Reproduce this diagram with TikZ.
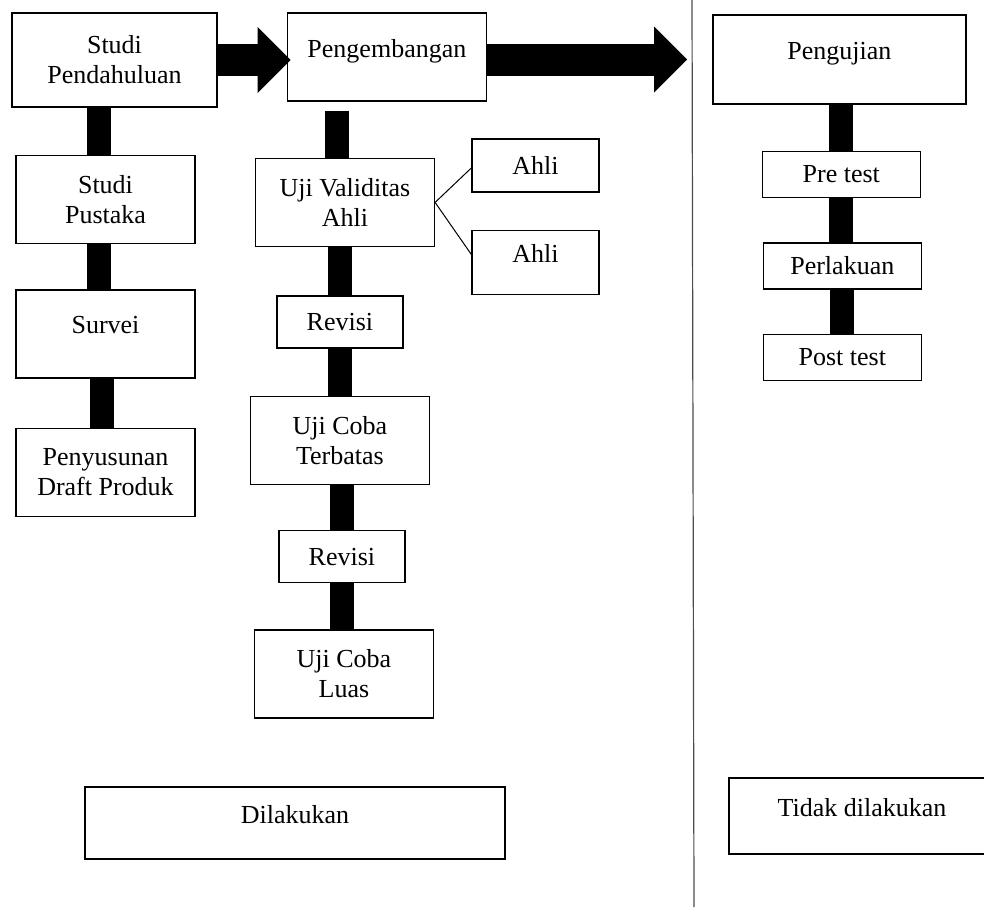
\documentclass[tikz,border=0pt]{standalone}
\usepackage{fontspec}
\setmainfont{Liberation Serif}
\usepackage{tikz}
\usetikzlibrary{arrows.meta,positioning}
\tikzset{
  flbox/.style={draw=black, line width=0.7pt, fill=white, align=center, inner sep=2pt},
  flbig/.style={flbox, minimum width=89.5pt, minimum height=44pt},
  flsmall/.style={flbox, minimum width=63pt, minimum height=26pt},
  fltest/.style={flbox, minimum width=79pt, minimum height=23pt},
  fltop/.style={text depth=9pt},
  flbar/.style={line width=12pt},
  flarrow/.style={-{Triangle[length=16.5pt,width=32pt]}, line width=16pt},
  flthin/.style={line width=0.5pt},
  fldivide/.style={line width=0.6pt, black!70}
}
\begin{document}
\begin{tikzpicture}[x=0.5pt, y=-0.5pt, node distance=23pt, font=\fontsize{13}{15}\selectfont]
  \useasboundingbox (0,0) rectangle (984,907);
  % kolom studi pendahuluan
  \node[flbox, minimum width=102.5pt, minimum height=47pt] (studi) at (114.5,60) {Studi\\Pendahuluan};
  \node[flbig, below=23.5pt of studi, xshift=-4.5pt] (pustaka) {Studi\\Pustaka};
  \node[flbig, fltop, below=22.5pt of pustaka] (survei) {Survei};
  \node[flbig, below=24.5pt of survei] (draft) {Penyusunan\\Draft Produk};
  % kolom pengembangan
  \node[flbox, fltop, minimum width=99.5pt, minimum height=44pt, right=34.5pt of studi, yshift=1.5pt] (kembang) {Pengembangan};
  \node[flbig, below=28pt of kembang, xshift=-21pt] (validitas) {Uji Validitas\\Ahli};
  \node[flsmall, below=24pt of validitas, xshift=-2.5pt] (revisi1) {Revisi};
  \node[flbig, below=23.5pt of revisi1] (terbatas) {Uji Coba\\Terbatas};
  \node[flsmall, below=22.5pt of terbatas, xshift=1pt] (revisi2) {Revisi};
  \node[flbig, below=23pt of revisi2, xshift=1pt] (luas) {Uji Coba\\Luas};
  \node[flbox, minimum width=63.5pt, minimum height=26.5pt] (ahli1) at (535.5,165.5) {Ahli};
  \node[flbox, fltop, minimum width=63.5pt, minimum height=32pt, below=18.5pt of ahli1] (ahli2) {Ahli};
  % kolom pengujian
  \node[flbox, fltop, minimum width=126.5pt, minimum height=44.5pt, right=112.5pt of kembang, yshift=-1.25pt] (uji) {Pengujian};
  \node[fltest, below=23pt of uji, xshift=1pt] (pre) {Pre test};
  \node[fltest, below=22pt of pre, xshift=0.5pt] (perlakuan) {Perlakuan};
  \node[fltest, below=22pt of perlakuan] (post) {Post test};
  % keterangan
  \node[flbox, fltop, minimum width=210pt, minimum height=36pt] (dilakukan) at (295,823) {Dilakukan};
  \node[flbox, fltop, minimum width=133pt, minimum height=38pt] (tidak) at (862,816) {Tidak dilakukan};

  \draw[flbar] ([xshift=-3.25pt]pustaka.north |- studi.south) -- ([xshift=-3.25pt]pustaka.north);
  \draw[flbar] ([xshift=-3.5pt]survei.north |- pustaka.south) -- ([xshift=-3.5pt]survei.north);
  \draw[flbar] ([xshift=-1.75pt]draft.north |- survei.south) -- ([xshift=-1.75pt]draft.north);
  \draw[flbar, shorten <=4.5pt] ([xshift=-3.75pt]validitas.north |- kembang.south) -- ([xshift=-3.75pt]validitas.north);
  \draw[flbar] (revisi1.north |- validitas.south) -- (revisi1.north);
  \draw[flbar] (revisi1.south) -- (revisi1.south |- terbatas.north);
  \draw[flbar] (revisi2.north |- terbatas.south) -- (revisi2.north);
  \draw[flbar] (revisi2.south) -- (revisi2.south |- luas.north);
  \draw[flbar] (pre.north |- uji.south) -- (pre.north);
  \draw[flbar] (pre.south) -- (pre.south |- perlakuan.north);
  \draw[flbar] (perlakuan.south) -- (perlakuan.south |- post.north);

  \draw[flarrow, shorten >=-2pt] (studi.east) -- (studi.east -| kembang.west);
  \draw[flarrow, shorten >=12.5pt] (kembang.east |- uji.east) -- (uji.west);
  \draw[flthin] (validitas.east) -- ([yshift=-1.25pt]ahli1.west);
  \draw[flthin] (validitas.east) -- ([yshift=4pt]ahli2.west);

  \coordinate (garisatas) at (692,0);
  \coordinate (garisbawah) at (694,907);
  \draw[fldivide] (garisatas) -- (garisbawah);
\end{tikzpicture}
\end{document}
